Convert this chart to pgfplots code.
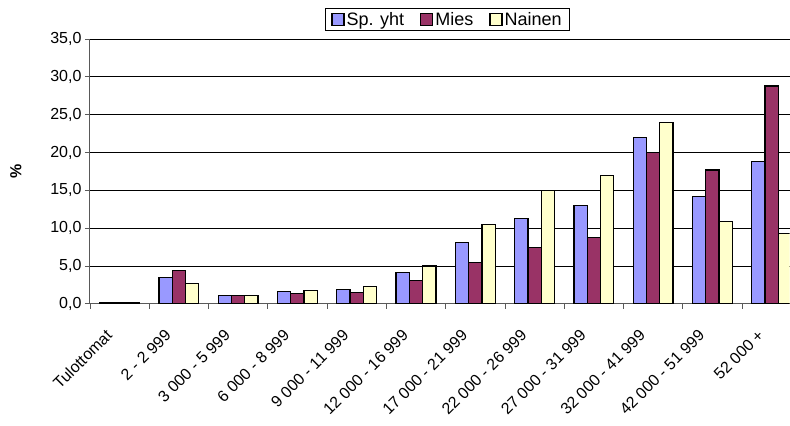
\documentclass[border=0pt]{standalone}
\usepackage{pgfplots}
\pgfplotsset{compat=1.18}
\usepackage{fontspec}
\setmainfont{Liberation Sans}
\definecolor{spyht}{HTML}{9999FF}
\definecolor{mies}{HTML}{993366}
\definecolor{nainen}{HTML}{FFFFCC}
\newcommand{\chfont}{\fontsize{16bp}{19bp}\selectfont}
\begin{document}
\begin{tikzpicture}
\begin{axis}[
  scale only axis, width=700bp, height=265bp,
  xmin=-0.5, xmax=11.3, ymin=0, ymax=35,
  ybar=0pt, bar width=13.3bp,
  axis x line*=bottom, axis y line*=left,
  axis line style={draw=black!65, line width=0.9pt},
  clip=true,
  tick label style={font=\chfont},
  label style={font=\chfont\bfseries},
  /pgf/number format/assume math mode=true,
  ytick={0,5,...,35},
  yticklabel style={/pgf/number format/.cd, fixed, fixed zerofill, precision=1, use comma},
  ymajorgrids, grid style={black, line width=0.7pt},
  tick align=outside,
  major tick length=5bp, minor tick length=5bp,
  y tick style={black!65, line width=0.8pt},
  xtick={0,...,11},
  major x tick style={draw=none},
  minor xtick={-0.5,0.5,...,10.5},
  minor x tick style={black!65, line width=0.8pt},
  xticklabels={Tulottomat,2 - 2 999,3 000 - 5 999,6 000 - 8 999,9 000 - 11 999,12 000 - 16 999,17 000 - 21 999,22 000 - 26 999,27 000 - 31 999,32 000 - 41 999,42 000 - 51 999,52 000 +},
  xticklabel style={rotate=45, anchor=north east, xshift=-21bp, yshift=0bp},
  ylabel={\%},
  ylabel style={at={(axis description cs:-0.106,0.5)}, anchor=center},
  legend style={at={(0.511,1.117)}, anchor=north, legend columns=-1, draw=black, line width=0.6pt,
    font=\fontsize{18bp}{21bp}\selectfont, inner xsep=6bp, inner ysep=2bp,
    /tikz/every even column/.append style={column sep=14bp}},
  legend image code/.code={\draw[#1, line width=1.2pt] (0bp,-6bp) rectangle (12bp,6bp);},
  every axis plot/.append style={draw=black, line width=1.3pt},
]
\addplot[fill=spyht] coordinates {(0,0.1) (1,3.5) (2,1.1) (3,1.6) (4,1.9) (5,4.1) (6,8.1) (7,11.3) (8,13.0) (9,22.0) (10,14.2) (11,18.8)};
\addplot[fill=mies] coordinates {(0,0.1) (1,4.4) (2,1.1) (3,1.4) (4,1.5) (5,3.1) (6,5.5) (7,7.4) (8,8.8) (9,20.0) (10,17.7) (11,28.8)};
\addplot[fill=nainen] coordinates {(0,0.1) (1,2.7) (2,1.1) (3,1.8) (4,2.3) (5,5.0) (6,10.5) (7,15.0) (8,17.0) (9,24.0) (10,10.9) (11,9.3)};
\legend{Sp. yht,Mies,Nainen}
\end{axis}
\path ([shift={(-90bp,-122bp)}]current axis.south west) rectangle ([shift={(0bp,39bp)}]current axis.north east);
\end{tikzpicture}
\end{document}
